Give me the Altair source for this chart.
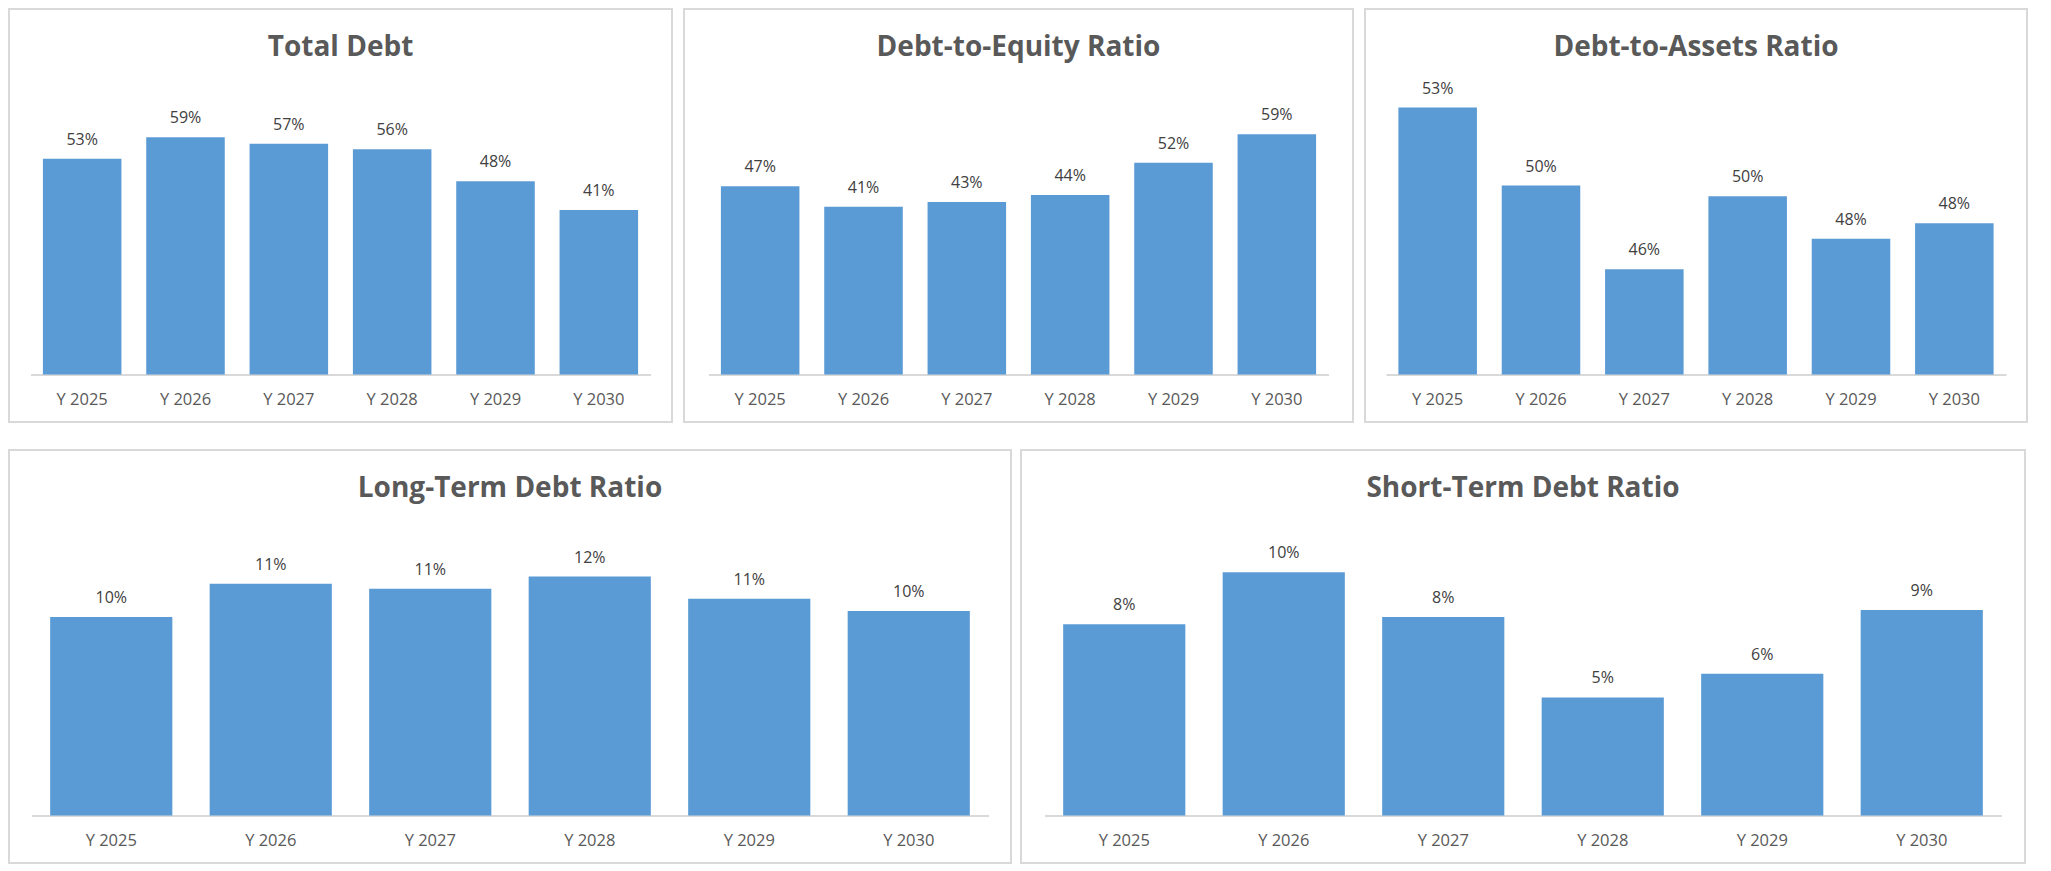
import altair as alt
import pandas as pd

## Excel-style dashboard of five debt ratio bar charts
years = ["Y 2025", "Y 2026", "Y 2027", "Y 2028", "Y 2029", "Y 2030"]

total_debt = [0.533, 0.586, 0.570, 0.556, 0.477, 0.406]
debt_to_equity = [0.465, 0.414, 0.426, 0.443, 0.523, 0.593]
debt_to_assets = [0.533, 0.500, 0.4645, 0.4955, 0.4775, 0.484]
long_term = [0.098, 0.1145, 0.112, 0.118, 0.107, 0.101]
short_term = [0.081, 0.103, 0.084, 0.050, 0.060, 0.087]

BAR = "#5B9BD5"
GRID = "#D9D9D9"
TXT = "#595959"
FONT = "Open Sans"

PANEL_H = 413
AXIS_Y = 365.5   # baseline of the bars inside the panel
TOP_Y = 82       # where the axis maximum sits


def panel(title, values, width, span, domain, pad_inner=0.24):
    df = pd.DataFrame({"year": years, "v": values})
    x0 = (width - span) / 2
    x = alt.X("year:N", sort=years, title=None,
              scale=alt.Scale(range=[x0, x0 + span], paddingInner=pad_inner,
                              paddingOuter=pad_inner / 2),
              axis=alt.Axis(labelAngle=0, ticks=False, tickSize=0, offset=AXIS_Y - PANEL_H,
                            domainColor=GRID, domainWidth=2, labelPadding=30,
                            labelBaseline="alphabetic", labelFont=FONT, labelFontSize=16.5,
                            labelColor=TXT))
    y = alt.Y("v:Q", axis=None,
              scale=alt.Scale(domain=domain, range=[AXIS_Y, TOP_Y], zero=False, nice=False))
    base = alt.Chart(df).encode(x=x, y=y)
    bars = base.mark_bar(color=BAR).encode(y2=alt.datum(domain[0]))
    labels = base.mark_text(baseline="alphabetic", dy=-14, font=FONT, fontSize=16,
                            color="#404040").encode(text=alt.Text("v:Q", format=".0%"))
    # chart title drawn inside the bordered panel, like the Excel chart box
    head = alt.Chart(pd.DataFrame({"t": [title]})).mark_text(
        baseline="alphabetic", align="center", font=FONT, fontSize=28,
        fontWeight="bold", color=TXT
    ).encode(text="t:N", x=alt.value(width / 2), y=alt.value(47))
    return (bars + labels + head).properties(width=width, height=PANEL_H)


top = alt.hconcat(
    panel("Total Debt", total_debt, 663, 620, [0, 0.70]),
    panel("Debt-to-Equity Ratio", debt_to_equity, 669, 620, [0, 0.70]),
    panel("Debt-to-Assets Ratio", debt_to_assets, 662, 620, [0.42, 0.54]),
    spacing=10,
)
bottom = alt.hconcat(
    panel("Long-Term Debt Ratio", long_term, 1002, 957, [0, 0.14], 0.234),
    panel("Short-Term Debt Ratio", short_term, 1004, 957, [0, 0.12], 0.234),
    spacing=8,
)

chart = alt.vconcat(top, bottom, spacing=26).properties(padding=0).configure_view(
    stroke=GRID, strokeWidth=2, fill="white"
)

chart.save("out.html", embed_options={"renderer": "svg", "actions": False})
